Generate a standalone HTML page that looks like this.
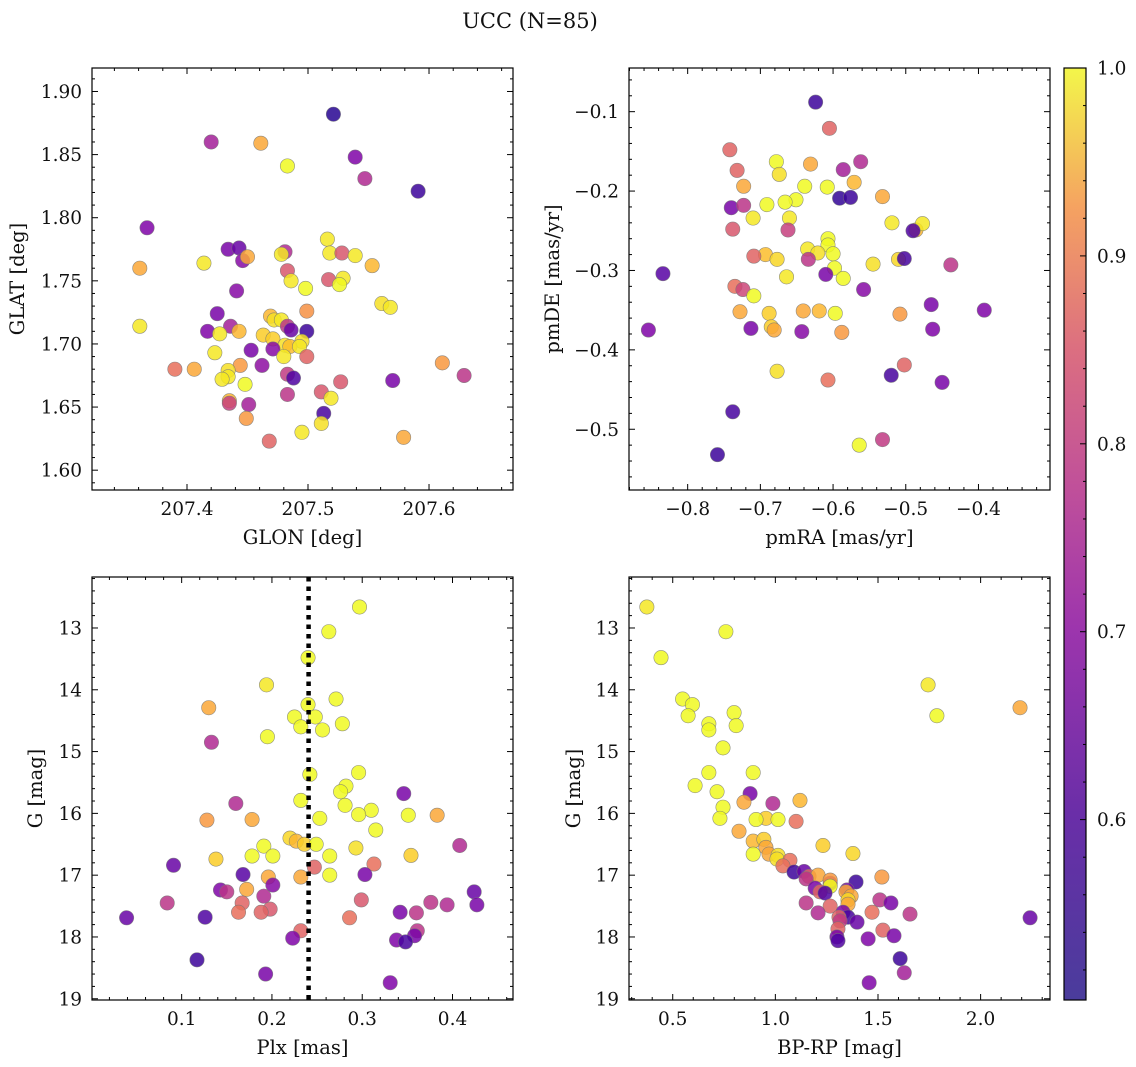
<!DOCTYPE html>
<html><head><meta charset="utf-8">
<style>
html,body{margin:0;padding:0;background:#fff;}
svg{display:block;font-family:"DejaVu Serif","Liberation Serif",serif;}
</style></head>
<body>
<svg id="fig" width="1136" height="1067" viewBox="0 0 1136 1067" xmlns="http://www.w3.org/2000/svg">
<defs>
<linearGradient id="cbgrad" x1="0" y1="1" x2="0" y2="0">
<stop offset="0" stop-color="#4a3c9c"/><stop offset="0.2" stop-color="#6a2ea8"/><stop offset="0.4" stop-color="#9d35ad"/><stop offset="0.55" stop-color="#c0509a"/><stop offset="0.7" stop-color="#dc6f80"/><stop offset="0.85" stop-color="#f5a261"/><stop offset="1" stop-color="#f3f64a"/>
</linearGradient>
</defs>
<text x="530" y="28" font-size="21" text-anchor="middle" fill="#111">UCC (N=85)</text>
<g id="plots"></g>
</svg>
<script>
// Panel 1: GLON vs GLAT
const p1_glon=[207.521,207.420,207.539,207.461,207.483,207.547,207.591,207.367,207.434,207.443,207.481,207.446,207.450,207.414,207.478,207.516,207.518,207.528,207.539,207.361,207.553,207.483,207.486,207.529,207.517,207.498,207.526,207.441,207.561,207.568,207.499,207.469,207.425,207.472,207.478,207.361,207.436,207.483,207.417,207.443,207.486,207.499,207.463,207.427,207.471,207.495,207.481,207.485,207.453,207.471,207.423,207.493,207.499,207.480,207.462,207.444,207.611,207.390,207.406,207.434,207.434,207.629,207.483,207.488,207.429,207.448,207.570,207.527,207.511,207.483,207.435,207.435,207.451,207.519,207.513,207.511,207.449,207.495,207.468,207.579];
const p1_glat=[1.882,1.860,1.848,1.859,1.841,1.831,1.821,1.792,1.775,1.776,1.773,1.766,1.769,1.764,1.771,1.783,1.772,1.772,1.770,1.760,1.762,1.758,1.750,1.752,1.751,1.744,1.747,1.742,1.732,1.729,1.726,1.722,1.724,1.719,1.719,1.714,1.714,1.714,1.710,1.710,1.711,1.710,1.707,1.708,1.704,1.702,1.699,1.698,1.695,1.696,1.693,1.698,1.690,1.690,1.683,1.683,1.685,1.680,1.680,1.679,1.674,1.675,1.676,1.673,1.672,1.668,1.671,1.670,1.662,1.660,1.655,1.653,1.652,1.657,1.645,1.637,1.641,1.630,1.623,1.626];
const p1_c=[0.53,0.68,0.63,0.9,1.0,0.7,0.55,0.63,0.62,0.6,0.7,0.64,0.9,0.98,0.98,0.98,0.98,0.78,0.98,0.9,0.92,0.78,0.98,0.98,0.78,1.0,1.0,0.64,0.97,0.98,0.87,0.92,0.62,0.97,0.98,0.98,0.68,0.72,0.63,0.92,0.6,0.55,0.95,0.98,0.95,0.97,0.97,0.93,0.62,0.64,0.98,0.98,0.8,0.98,0.65,0.88,0.88,0.82,0.9,0.97,0.98,0.72,0.73,0.57,0.98,1.0,0.62,0.78,0.78,0.72,0.92,0.74,0.68,0.98,0.56,0.97,0.88,0.98,0.8,0.9];
// Panel 2: pmRA vs pmDE
const p2_pmra=[-0.624,-0.605,-0.742,-0.678,-0.631,-0.562,-0.732,-0.674,-0.586,-0.571,-0.723,-0.639,-0.608,-0.532,-0.591,-0.576,-0.651,-0.666,-0.691,-0.740,-0.723,-0.660,-0.710,-0.738,-0.662,-0.519,-0.486,-0.477,-0.490,-0.607,-0.607,-0.635,-0.621,-0.600,-0.693,-0.709,-0.677,-0.634,-0.510,-0.502,-0.438,-0.545,-0.598,-0.834,-0.610,-0.664,-0.586,-0.558,-0.735,-0.724,-0.709,-0.465,-0.392,-0.728,-0.641,-0.619,-0.597,-0.508,-0.688,-0.685,-0.681,-0.713,-0.643,-0.588,-0.463,-0.854,-0.677,-0.502,-0.520,-0.607,-0.450,-0.738,-0.532,-0.564,-0.759];
const p2_pmde=[-0.088,-0.121,-0.148,-0.163,-0.166,-0.163,-0.174,-0.179,-0.173,-0.189,-0.194,-0.194,-0.195,-0.207,-0.209,-0.208,-0.211,-0.214,-0.217,-0.221,-0.218,-0.234,-0.234,-0.248,-0.249,-0.240,-0.249,-0.241,-0.250,-0.260,-0.268,-0.273,-0.278,-0.279,-0.280,-0.282,-0.286,-0.286,-0.286,-0.285,-0.293,-0.292,-0.297,-0.304,-0.305,-0.308,-0.310,-0.324,-0.320,-0.324,-0.332,-0.343,-0.350,-0.352,-0.351,-0.351,-0.354,-0.355,-0.354,-0.371,-0.375,-0.373,-0.377,-0.378,-0.374,-0.375,-0.427,-0.419,-0.432,-0.438,-0.441,-0.478,-0.513,-0.520,-0.532];
const p2_c=[0.55,0.8,0.8,1.0,0.9,0.7,0.8,0.97,0.68,0.92,0.9,1.0,1.0,0.9,0.54,0.55,1.0,1.0,1.0,0.62,0.72,0.98,0.98,0.78,0.74,0.98,0.92,0.98,0.57,1.0,1.0,0.98,0.97,1.0,0.93,0.8,0.96,0.72,0.96,0.56,0.72,0.97,1.0,0.58,0.62,0.98,1.0,0.64,0.82,0.75,1.0,0.62,0.63,0.9,0.9,0.92,1.0,0.88,0.95,0.95,0.9,0.62,0.64,0.88,0.63,0.63,0.97,0.8,0.56,0.82,0.62,0.56,0.73,1.0,0.55];
// Panel 3: Plx vs G
const p3_plx=[0.297,0.263,0.240,0.194,0.271,0.240,0.130,0.225,0.248,0.256,0.232,0.278,0.195,0.133,0.242,0.296,0.282,0.346,0.276,0.232,0.160,0.281,0.310,0.351,0.296,0.383,0.253,0.178,0.128,0.315,0.220,0.227,0.236,0.191,0.249,0.408,0.293,0.354,0.178,0.201,0.264,0.138,0.091,0.313,0.247,0.196,0.232,0.264,0.168,0.303,0.201,0.143,0.150,0.172,0.424,0.191,0.299,0.376,0.167,0.084,0.394,0.427,0.198,0.163,0.188,0.342,0.360,0.039,0.126,0.286,0.232,0.361,0.358,0.223,0.338,0.348,0.117,0.193,0.331];
const p3_g=[12.66,13.06,13.48,13.92,14.15,14.24,14.29,14.44,14.44,14.65,14.60,14.55,14.76,14.85,15.37,15.34,15.56,15.68,15.65,15.79,15.84,15.87,15.95,16.03,16.02,16.03,16.08,16.10,16.11,16.27,16.40,16.45,16.50,16.53,16.50,16.52,16.56,16.68,16.69,16.69,16.69,16.74,16.84,16.82,16.87,17.03,17.03,17.00,16.99,16.99,17.16,17.24,17.27,17.23,17.27,17.34,17.40,17.44,17.45,17.45,17.48,17.48,17.55,17.60,17.60,17.60,17.61,17.69,17.68,17.69,17.90,17.90,17.98,18.02,18.05,18.08,18.37,18.60,18.74];
const p3_c=[1.0,1.0,1.0,0.98,1.0,1.0,0.9,1.0,1.0,1.0,1.0,1.0,1.0,0.7,1.0,1.0,1.0,0.62,1.0,1.0,0.7,1.0,1.0,1.0,1.0,0.9,1.0,0.9,0.88,1.0,0.96,0.92,0.95,1.0,1.0,0.7,0.97,0.95,1.0,1.0,1.0,0.95,0.6,0.82,0.8,0.9,0.9,1.0,0.58,0.62,0.64,0.63,0.72,0.9,0.6,0.7,0.78,0.72,0.8,0.72,0.7,0.62,0.78,0.82,0.8,0.62,0.72,0.6,0.57,0.82,0.8,0.72,0.62,0.63,0.63,0.56,0.55,0.62,0.63];
const p3_vline=[0.2406];
// Panel 4: BP-RP vs G
const p4_bprp=[0.374,0.759,0.443,1.744,0.548,2.192,0.596,0.575,0.799,1.787,0.676,0.676,0.809,0.745,0.676,0.609,0.716,0.877,0.892,0.847,0.988,1.120,0.745,0.730,0.823,1.101,0.954,1.013,0.906,1.232,1.378,0.892,0.944,0.954,0.969,1.013,1.008,0.892,1.071,1.037,1.091,1.140,1.164,1.208,1.150,1.267,1.393,1.267,1.519,1.267,1.194,1.349,1.218,1.242,1.344,1.369,1.354,1.354,1.509,1.563,1.150,1.267,1.208,1.330,1.471,1.656,2.241,1.354,1.310,1.315,1.398,1.305,1.300,1.305,1.452,1.524,1.578,1.608,1.628,1.457];
const p4_g=[12.66,13.06,13.48,13.92,14.15,14.29,14.24,14.42,14.37,14.42,14.55,14.65,14.58,14.94,15.34,15.55,15.65,15.68,15.34,15.82,15.84,15.79,15.90,16.08,16.29,16.13,16.08,16.10,16.10,16.52,16.65,16.45,16.42,16.55,16.66,16.68,16.74,16.66,16.76,16.85,16.95,16.94,17.02,17.00,17.06,17.13,17.11,17.08,17.03,17.18,17.21,17.24,17.27,17.29,17.27,17.34,17.40,17.47,17.40,17.45,17.45,17.50,17.61,17.60,17.60,17.63,17.69,17.68,17.68,17.74,17.76,17.87,18.00,18.06,18.03,17.89,17.98,18.35,18.58,18.74];
const p4_c=[0.98,1.0,1.0,0.98,1.0,0.9,1.0,1.0,1.0,1.0,1.0,1.0,1.0,1.0,1.0,1.0,1.0,0.62,1.0,0.9,0.7,0.92,1.0,1.0,0.9,0.82,0.95,1.0,1.0,0.95,0.96,0.92,0.95,0.9,0.9,0.97,0.97,1.0,0.82,0.82,0.55,0.6,0.8,0.9,0.72,0.63,0.55,0.88,0.88,1.0,0.62,0.62,0.8,0.57,0.9,0.9,0.96,0.9,0.72,0.62,0.72,0.8,0.7,0.62,0.82,0.72,0.6,0.56,0.8,0.73,0.6,0.8,0.62,0.57,0.63,0.8,0.62,0.55,0.68,0.63];
// Colorbar
const cb_ticks=[0.6,0.7,0.8,0.9,1.0];

const NS="http://www.w3.org/2000/svg";
const root=document.getElementById('plots');
function mk(tag,attrs,parent){const e=document.createElementNS(NS,tag);for(const k in attrs)e.setAttribute(k,attrs[k]);(parent||root).appendChild(e);return e;}
const VMIN=0.504,VMAX=1.0;
const TF=18.5, LF=19.5;
const PL=[[0,13,8,135],[0.125,76,2,161],[0.25,126,3,168],[0.375,169,35,149],[0.5,204,71,120],[0.625,229,107,93],[0.75,248,149,64],[0.875,253,195,40],[1,240,249,33]];
function plasma(v){let t=(v-VMIN)/(VMAX-VMIN);t=Math.max(0,Math.min(1,t));for(let i=1;i<PL.length;i++){if(t<=PL[i][0]){const a=PL[i-1],b=PL[i],f=(t-a[0])/(b[0]-a[0]);return `rgb(${Math.round(a[1]+f*(b[1]-a[1]))},${Math.round(a[2]+f*(b[2]-a[2]))},${Math.round(a[3]+f*(b[3]-a[3]))})`;}}return 'rgb(240,249,33)';}
function fmt(v,d){const s=Math.abs(v).toFixed(d);return (v<-1e-9?'\u2212':'')+s;}

function panel(cfg){
  const g=mk('g',{});
  
  
  const {x0,x1,y0,y1}=cfg;
  const sx=v=>x0+(v-cfg.xd[0])/(cfg.xd[1]-cfg.xd[0])*(x1-x0);
  const sy=v=>cfg.yinv? y0+(v-cfg.yd[0])/(cfg.yd[1]-cfg.yd[0])*(y1-y0) : y1-(v-cfg.yd[0])/(cfg.yd[1]-cfg.yd[0])*(y1-y0);
  const pts=mk('g',{},g);
  
  
  for(let i=0;i<cfg.xs.length;i++){
    const c=mk('circle',{cx:sx(cfg.xs[i]),cy:sy(cfg.ys[i]),r:7.2,fill:plasma(cfg.cs[i]),'fill-opacity':0.85,stroke:'#777','stroke-width':0.6,'stroke-opacity':0.8},pts);
    
    
  }
  if(cfg.vline!==undefined){const vl=mk('line',{x1:sx(cfg.vline),x2:sx(cfg.vline),y1:y0,y2:y1,stroke:'#000','stroke-width':4.5,'stroke-dasharray':'4.5 5'},g);
    
    }
  const fr=mk('rect',{x:x0,y:y0,width:x1-x0,height:y1-y0,fill:'none',stroke:'#000','stroke-width':1.2},g);
  
  
  const tg=mk('g',{stroke:'#000','stroke-width':1},g);
  const xs0=Math.ceil((cfg.xd[0]-1e-9)/cfg.xmin), xs1=Math.floor((cfg.xd[1]+1e-9)/cfg.xmin);
  for(let k=xs0;k<=xs1;k++){const v=k*cfg.xmin;const major=Math.abs(v/cfg.xmaj-Math.round(v/cfg.xmaj))<1e-6;const L=major?6:3;const px=sx(v);
    mk('line',{x1:px,x2:px,y1:y1,y2:y1-L},tg);mk('line',{x1:px,x2:px,y1:y0,y2:y0+L},tg);
    if(major){const t=mk('text',{x:px,y:y1+25,'font-size':TF,'text-anchor':'middle',stroke:'none',fill:'#111'},g);t.textContent=fmt(v,cfg.xdec);
      
      }}
  const ys0=Math.ceil((Math.min(...cfg.yd)-1e-9)/cfg.ymin), ys1=Math.floor((Math.max(...cfg.yd)+1e-9)/cfg.ymin);
  for(let k=ys0;k<=ys1;k++){const v=k*cfg.ymin;const major=Math.abs(v/cfg.ymaj-Math.round(v/cfg.ymaj))<1e-6;const L=major?6:3;const py=sy(v);
    mk('line',{x1:x0,x2:x0+L,y1:py,y2:py},tg);mk('line',{x1:x1,x2:x1-L,y1:py,y2:py},tg);
    if(major){const t=mk('text',{x:x0-10,y:py+6.5,'font-size':TF,'text-anchor':'end',stroke:'none',fill:'#111'},g);t.textContent=fmt(v,cfg.ydec);
      
      }}
  const xl=mk('text',{x:(x0+x1)/2,y:y1+54,'font-size':LF,'text-anchor':'middle',fill:'#111'},g);xl.textContent=cfg.xlabel;
  
  
  const yl=mk('text',{x:0,y:0,'font-size':LF,'text-anchor':'middle',fill:'#111',transform:`translate(${cfg.ylx},${(y0+y1)/2}) rotate(-90)`},g);yl.textContent=cfg.ylabel;
  
  
}

panel({name:'glon-glat-panel',x0:92,x1:513,y0:68,y1:490,xd:[207.3215,207.6694],yd:[1.5843,1.9186],xs:p1_glon,ys:p1_glat,cs:p1_c,xmaj:0.1,xmin:0.02,ymaj:0.05,ymin:0.01,xdec:1,ydec:2,xlabel:'GLON [deg]',ylabel:'GLAT [deg]',ylx:24});
panel({name:'proper-motion-panel',x0:629,x1:1050,y0:68,y1:490,xd:[-0.8807,-0.3016],yd:[-0.5765,-0.045],xs:p2_pmra,ys:p2_pmde,cs:p2_c,xmaj:0.1,xmin:0.02,ymaj:0.1,ymin:0.02,xdec:1,ydec:1,xlabel:'pmRA [mas/yr]',ylabel:'pmDE [mas/yr]',ylx:559});
panel({name:'parallax-magnitude-panel',x0:92,x1:513,y0:577,y1:1000,xd:[0.0007,0.467],yd:[12.175,19.02],yinv:true,xs:p3_plx,ys:p3_g,cs:p3_c,vline:p3_vline[0],xmaj:0.1,xmin:0.02,ymaj:1,ymin:0.2,xdec:1,ydec:0,xlabel:'Plx [mas]',ylabel:'G [mag]',ylx:42});
panel({name:'color-magnitude-panel',x0:629,x1:1050,y0:577,y1:1000,xd:[0.287,2.338],yd:[12.175,19.02],yinv:true,xs:p4_bprp,ys:p4_g,cs:p4_c,xmaj:0.5,xmin:0.1,ymaj:1,ymin:0.2,xdec:1,ydec:0,xlabel:'BP-RP [mag]',ylabel:'G [mag]',ylx:580});

(function(){
  const g=mk('g',{});
  
  
  const X0=1064,X1=1086,Y0=68,Y1=1000;
  const cy=v=>Y0+(VMAX-v)/(VMAX-VMIN)*(Y1-Y0);
  mk('rect',{x:X0,y:Y0,width:X1-X0,height:Y1-Y0,fill:'url(#cbgrad)',stroke:'#000','stroke-width':1.2},g);
  for(let k=26;k<=50;k++){const v=k*0.02;if(v<VMIN)continue;const major=Math.abs(v*10-Math.round(v*10))<1e-6;const py=cy(v);
    mk('line',{x1:X1,x2:X1-(major?6:3),y1:py,y2:py,stroke:'#000','stroke-width':1},g);}
  cb_ticks.forEach(v=>{const t=mk('text',{x:X1+11,y:cy(v)+6.5,'font-size':TF,fill:'#111'},g);t.textContent=v.toFixed(1);
    
    });
})();
</script>
</body></html>
